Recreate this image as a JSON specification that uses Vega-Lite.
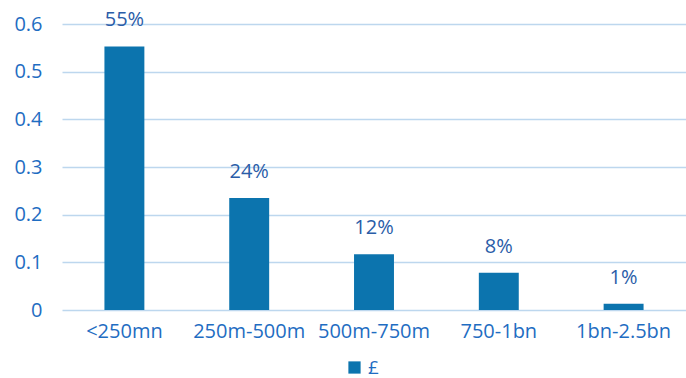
{
  "$schema": "https://vega.github.io/schema/vega-lite/v6.json",
  "width": 624,
  "height": 286,
  "autosize": "none",
  "padding": {"left": 62, "top": 24, "right": 0, "bottom": 68},
  "background": "white",
  "config": {
    "view": {"stroke": null},
    "font": "Open Sans"
  },
  "data": {
    "values": [
      {"cat": "<250mn", "value": 0.553, "label": "55%", "series": "£"},
      {"cat": "250m-500m", "value": 0.235, "label": "24%", "series": "£"},
      {"cat": "500m-750m", "value": 0.117, "label": "12%", "series": "£"},
      {"cat": "750-1bn", "value": 0.078, "label": "8%", "series": "£"},
      {"cat": "1bn-2.5bn", "value": 0.013, "label": "1%", "series": "£"}
    ]
  },
  "encoding": {
    "x": {
      "field": "cat",
      "type": "nominal",
      "sort": null,
      "scale": {"paddingInner": 0.68, "paddingOuter": 0.34},
      "axis": {
        "title": null,
        "labelAngle": 0,
        "domain": false,
        "ticks": false,
        "labelFontSize": 20,
        "labelColor": "#1F6DC2",
        "labelPadding": 11,
        "labelFont": "Open Sans"
      }
    },
    "y": {
      "field": "value",
      "type": "quantitative",
      "scale": {"domain": [0, 0.6], "nice": false},
      "axis": {
        "title": null,
        "values": [0, 0.1, 0.2, 0.3, 0.4, 0.5, 0.6],
        "format": ".1~f",
        "domain": false,
        "ticks": false,
        "gridColor": "#BDD7EE",
        "gridWidth": 1.5,
        "labelFontSize": 20,
        "labelColor": "#1F6DC2",
        "labelPadding": 20,
        "labelFont": "Open Sans"
      }
    }
  },
  "layer": [
    {
      "mark": {"type": "bar", "color": "#0C74AE"},
      "encoding": {
        "color": {
          "field": "series",
          "type": "nominal",
          "scale": {"range": ["#0C74AE"]},
          "legend": {
            "title": null,
            "orient": "none",
            "legendX": 283,
            "legendY": 334,
            "symbolType": "square",
            "symbolSize": 150,
            "symbolStrokeWidth": 0,
            "labelFontSize": 19,
            "labelColor": "#1F6DC2",
            "labelFont": "Open Sans"
          }
        }
      }
    },
    {
      "mark": {"type": "text", "dy": -26, "fontSize": 20, "color": "#2A5DA8", "font": "Open Sans"},
      "encoding": {"text": {"field": "label"}}
    }
  ]
}
